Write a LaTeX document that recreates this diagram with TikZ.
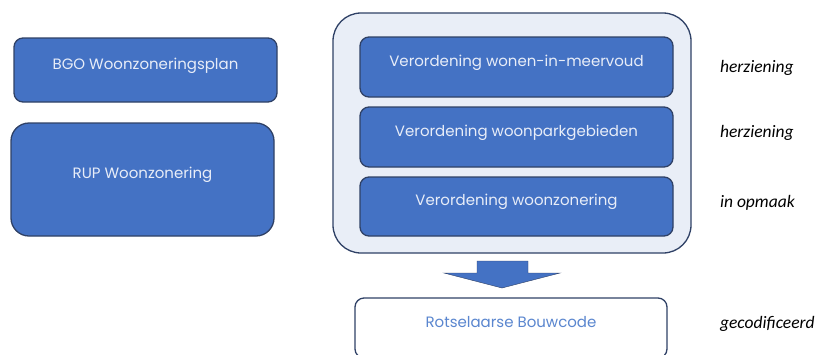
\documentclass[tikz,border=0pt]{standalone}
\usepackage{fontspec}
\setmainfont{Poppins}
\newfontfamily\notefont{Carlito}
\usepackage{tikz}
\usetikzlibrary{positioning}
\definecolor{boxblue}{HTML}{4472C4}
\definecolor{boxline}{HTML}{2F4166}
\definecolor{boxpale}{HTML}{E9EEF7}
\definecolor{boxtext}{HTML}{E8EDF8}
\definecolor{codeblue}{HTML}{5A86CF}
\tikzset{
  planbox/.style={draw=boxline, line width=1.3pt, fill=boxblue, text=boxtext,
    rounded corners=9pt, text height=11pt, text depth=13pt,
    font=\fontsize{15}{17}\selectfont},
  notetext/.style={anchor=west, font=\notefont\itshape\fontsize{17.5}{19}\selectfont}
}
\begin{document}
\begin{tikzpicture}[x=1pt, y=-1pt]
\useasboundingbox (0,0) rectangle (816,354);
\clip (0,0) rectangle (816,354);
\node[planbox, minimum width=263pt, minimum height=64pt] (bgo) at (145.5,70) {BGO Woonzoneringsplan};
\node[planbox, minimum width=263pt, minimum height=113pt, rounded corners=18pt] (rup) at (142.5,179.5) {RUP Woonzonering};
\node[draw=boxline, line width=1.3pt, fill=boxpale, rounded corners=28pt, minimum width=358pt, minimum height=240pt] (verord) at (512,133) {};
\node[planbox, minimum width=313pt, minimum height=60pt] (meervoud) at (516.5,67) {Verordening wonen-in-meervoud};
\node[planbox, minimum width=313pt, minimum height=60pt] (woonpark) at (516.5,137) {Verordening woonparkgebieden};
\node[planbox, minimum width=313pt, minimum height=59pt] (zonering) at (516.5,206.5) {Verordening woonzonering};
\node[planbox, fill=white, text=codeblue, minimum width=312pt, minimum height=60pt] (bouwcode) at (511,328) {Rotselaarse Bouwcode};
%
\node[notetext] (st1) at (716.5,68) {herziening};
\node[notetext] (st2) at (716.5,133) {herziening};
\node[notetext] (st3) at (716.5,203) {in opmaak};
\node[notetext] (st4) at (716.5,324) {gecodificeerd};
%
\fill[boxblue, draw=boxline, line width=0.4pt] (477,261) -- (528,261) -- (528,273) -- (560,273) -- (502,288) -- (444,273) -- (477,273) -- cycle;
\end{tikzpicture}
\end{document}
